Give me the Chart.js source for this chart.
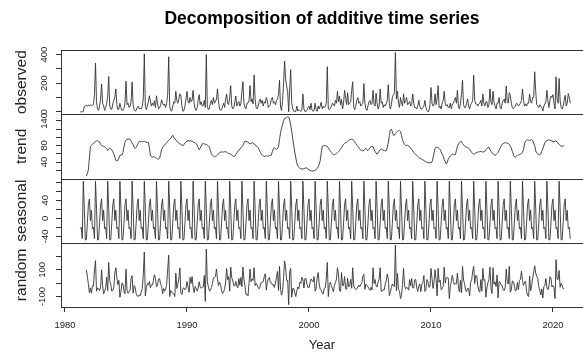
<!DOCTYPE html>
<html><head><meta charset="utf-8">
<script src="https://cdn.jsdelivr.net/npm/chart.js@4.4.1/dist/chart.umd.min.js"></script>
<style>html,body{margin:0;padding:0;background:#fff;overflow:hidden}canvas{display:block}</style>
</head><body>
<canvas id="c" width="583" height="354"></canvas>
<script>
// Monthly series, April 1981 – June 2021 (frequency 12)
const startYear = 1981;
const startMonth = 4;
const frequency = 12;

const observed = [
  0, 0, 0, 2, 38, 42, 44, 40, 46,
  43, 48, 45, 46, 50, 120, 340, 70, 20, 10, 40, 90,
  195, 60, 40, 10, 30, 60, 110, 247, 40, 20, 17, 55,
  80, 100, 160, 50, 15, 20, 60, 30, 10, 12, 25, 60,
  214, 50, 60, 30, 35, 70, 208, 50, 15, 5, 10, 30,
  40, 20, 25, 20, 40, 90, 405, 40, 15, 40, 70, 112,
  75, 40, 60, 45, 77, 30, 112, 60, 20, 27, 45, 84,
  60, 45, 55, 30, 60, 120, 385, 40, 10, 5, 40, 70,
  60, 143, 80, 60, 90, 126, 110, 40, 3, 10, 40, 90,
  143, 70, 60, 100, 70, 80, 150, 60, 20, 10, 30, 80,
  120, 50, 70, 40, 45, 80, 30, 400, 40, 15, 25, 60,
  80, 50, 100, 60, 70, 90, 160, 70, 20, 10, 15, 40,
  60, 30, 90, 125, 60, 50, 100, 183, 40, 20, 30, 70,
  110, 40, 60, 72, 40, 60, 140, 210, 60, 30, 20, 60,
  60, 80, 183, 70, 90, 55, 257, 90, 30, 20, 40, 70,
  90, 60, 80, 40, 70, 60, 100, 80, 30, 40, 50, 90,
  100, 60, 70, 50, 80, 90, 120, 220, 30, 10, 80, 200,
  355, 230, 180, 143, 0, 160, 294, 60, 20, 5, 3, 2,
  40, 5, 15, 8, 3, 10, 125, 20, 2, 3, 10, 30,
  40, 15, 60, 10, 5, 8, 60, 15, 3, 40, 20, 40,
  67, 20, 40, 30, 35, 60, 315, 20, 15, 25, 40, 60,
  55, 40, 80, 60, 143, 70, 110, 50, 86, 20, 60, 150,
  100, 50, 134, 50, 60, 70, 150, 210, 30, 15, 40, 80,
  100, 60, 70, 40, 50, 60, 197, 60, 20, 10, 40, 70,
  80, 50, 60, 150, 50, 40, 130, 60, 20, 40, 160, 60,
  70, 30, 50, 40, 60, 80, 190, 60, 20, 50, 100, 120,
  130, 415, 90, 143, 60, 31, 100, 60, 40, 125, 60, 80,
  100, 50, 60, 72, 40, 50, 125, 60, 30, 30, 20, 40,
  80, 40, 20, 20, 30, 40, 80, 30, 10, 0, 5, 50,
  170, 60, 40, 50, 125, 50, 90, 183, 30, 40, 20, 60,
  80, 143, 60, 40, 50, 30, 30, 60, 20, 55, 60, 80,
  100, 60, 150, 40, 20, 60, 120, 220, 50, 30, 30, 60,
  90, 40, 20, 50, 60, 80, 255, 80, 55, 55, 40, 55,
  60, 80, 40, 125, 60, 40, 70, 70, 30, 50, 160, 70,
  50, 143, 70, 40, 20, 60, 60, 100, 30, 20, 60, 80,
  90, 60, 180, 70, 60, 134, 112, 60, 30, 20, 30, 40,
  60, 55, 40, 50, 60, 80, 160, 80, 40, 55, 40, 60,
  60, 125, 70, 60, 100, 100, 280, 143, 50, 40, 30, 50,
  40, 30, 5, 40, 55, 70, 150, 80, 30, 80, 110, 100,
  120, 60, 20, 245, 90, 60, 233, 80, 30, 20, 40, 80,
  115, 40, 60, 128, 100, 60
];

const trend = [
  null, null, null, null, null, null, 6, 12, 21,
  50, 77, 80, 83, 86, 88, 90, 91, 92, 90, 89, 82,
  80, 79, 78, 77, 75, 73, 68, 71, 74, 72, 70, 65,
  60, 52, 44, 43, 44, 50, 56, 57, 57, 63, 77, 88,
  93, 95, 96, 96, 95, 91, 86, 82, 76, 73, 76, 80,
  86, 90, 90, 90, 89, 90, 90, 89, 88, 88, 88, 74,
  57, 53, 52, 53, 52, 51, 49, 47, 47, 49, 58, 70,
  76, 79, 81, 84, 87, 90, 93, 95, 97, 102, 105, 100,
  97, 94, 90, 88, 86, 84, 83, 81, 80, 82, 86, 88,
  91, 92, 91, 92, 91, 90, 89, 88, 86, 84, 82, 75,
  70, 74, 79, 84, 85, 84, 83, 83, 81, 79, 76, 68,
  60, 56, 54, 53, 54, 55, 57, 61, 63, 64, 64, 65,
  64, 65, 65, 64, 62, 61, 60, 59, 57, 55, 53, 54,
  58, 62, 66, 70, 71, 74, 77, 80, 86, 91, 90, 89,
  88, 86, 84, 85, 87, 86, 84, 81, 79, 77, 75, 70,
  64, 60, 57, 55, 54, 54, 55, 54, 55, 56, 56, 57,
  66, 73, 75, 72, 71, 73, 77, 95, 111, 122, 132, 140,
  146, 147, 148, 150, 149, 142, 130, 115, 97, 80, 64, 50,
  38, 31, 27, 25, 24, 23, 23, 24, 25, 26, 25, 23,
  21, 20, 19, 18, 18, 19, 20, 22, 24, 28, 34, 43,
  62, 78, 79, 80, 80, 79, 78, 74, 70, 67, 63, 60,
  58, 58, 59, 61, 63, 65, 68, 72, 75, 79, 83, 85,
  87, 88, 90, 93, 94, 95, 95, 95, 92, 89, 85, 81,
  78, 75, 71, 69, 68, 67, 68, 71, 73, 70, 68, 71,
  75, 77, 78, 77, 71, 66, 62, 59, 62, 66, 70, 72,
  70, 69, 68, 67, 67, 76, 87, 104, 117, 120, 114, 105,
  105, 109, 112, 114, 116, 116, 114, 104, 94, 87, 83, 80,
  80, 81, 79, 76, 74, 71, 67, 63, 60, 58, 56, 54,
  51, 49, 48, 47, 45, 44, 42, 41, 39, 39, 38, 38,
  39, 40, 50, 62, 73, 76, 76, 75, 73, 70, 65, 59,
  54, 46, 41, 35, 40, 47, 51, 55, 57, 59, 59, 58,
  58, 68, 78, 84, 87, 89, 90, 85, 81, 79, 77, 76,
  75, 74, 71, 67, 63, 61, 59, 60, 62, 63, 64, 65,
  65, 66, 65, 64, 65, 66, 70, 73, 75, 76, 70, 66,
  62, 60, 58, 56, 58, 61, 64, 69, 74, 79, 83, 85,
  86, 87, 86, 86, 85, 83, 78, 74, 66, 59, 53, 52,
  54, 56, 57, 58, 59, 60, 64, 70, 84, 91, 93, 94,
  93, 92, 93, 95, 92, 86, 80, 67, 62, 60, 58, 57,
  60, 66, 72, 80, 87, 91, 92, 93, 94, 93, 92, 91,
  90, 89, 90, 92, 88, 86, 83, 80, 79, 78, 79, 80,
  null, null, null, null, null, null
];

const seasonal = [
  -23, -20, -45, 82, 22, -48, -47, -10, 30,
  43, -5, 18, -23, -20, -45, 82, 22, -48, -47, -10, 30,
  43, -5, 18, -23, -20, -45, 82, 22, -48, -47, -10, 30,
  43, -5, 18, -23, -20, -45, 82, 22, -48, -47, -10, 30,
  43, -5, 18, -23, -20, -45, 82, 22, -48, -47, -10, 30,
  43, -5, 18, -23, -20, -45, 82, 22, -48, -47, -10, 30,
  43, -5, 18, -23, -20, -45, 82, 22, -48, -47, -10, 30,
  43, -5, 18, -23, -20, -45, 82, 22, -48, -47, -10, 30,
  43, -5, 18, -23, -20, -45, 82, 22, -48, -47, -10, 30,
  43, -5, 18, -23, -20, -45, 82, 22, -48, -47, -10, 30,
  43, -5, 18, -23, -20, -45, 82, 22, -48, -47, -10, 30,
  43, -5, 18, -23, -20, -45, 82, 22, -48, -47, -10, 30,
  43, -5, 18, -23, -20, -45, 82, 22, -48, -47, -10, 30,
  43, -5, 18, -23, -20, -45, 82, 22, -48, -47, -10, 30,
  43, -5, 18, -23, -20, -45, 82, 22, -48, -47, -10, 30,
  43, -5, 18, -23, -20, -45, 82, 22, -48, -47, -10, 30,
  43, -5, 18, -23, -20, -45, 82, 22, -48, -47, -10, 30,
  43, -5, 18, -23, -20, -45, 82, 22, -48, -47, -10, 30,
  43, -5, 18, -23, -20, -45, 82, 22, -48, -47, -10, 30,
  43, -5, 18, -23, -20, -45, 82, 22, -48, -47, -10, 30,
  43, -5, 18, -23, -20, -45, 82, 22, -48, -47, -10, 30,
  43, -5, 18, -23, -20, -45, 82, 22, -48, -47, -10, 30,
  43, -5, 18, -23, -20, -45, 82, 22, -48, -47, -10, 30,
  43, -5, 18, -23, -20, -45, 82, 22, -48, -47, -10, 30,
  43, -5, 18, -23, -20, -45, 82, 22, -48, -47, -10, 30,
  43, -5, 18, -23, -20, -45, 82, 22, -48, -47, -10, 30,
  43, -5, 18, -23, -20, -45, 82, 22, -48, -47, -10, 30,
  43, -5, 18, -23, -20, -45, 82, 22, -48, -47, -10, 30,
  43, -5, 18, -23, -20, -45, 82, 22, -48, -47, -10, 30,
  43, -5, 18, -23, -20, -45, 82, 22, -48, -47, -10, 30,
  43, -5, 18, -23, -20, -45, 82, 22, -48, -47, -10, 30,
  43, -5, 18, -23, -20, -45, 82, 22, -48, -47, -10, 30,
  43, -5, 18, -23, -20, -45, 82, 22, -48, -47, -10, 30,
  43, -5, 18, -23, -20, -45, 82, 22, -48, -47, -10, 30,
  43, -5, 18, -23, -20, -45, 82, 22, -48, -47, -10, 30,
  43, -5, 18, -23, -20, -45, 82, 22, -48, -47, -10, 30,
  43, -5, 18, -23, -20, -45, 82, 22, -48, -47, -10, 30,
  43, -5, 18, -23, -20, -45, 82, 22, -48, -47, -10, 30,
  43, -5, 18, -23, -20, -45, 82, 22, -48, -47, -10, 30,
  43, -5, 18, -23, -20, -45, 82, 22, -48, -47, -10, 30,
  43, -5, 18, -23, -20, -45
];

const random = [
  null, null, null, null, null, null, 100, 50, -8,
  -70, -35, -75, -20, -22, 100, 168, -60, -35, -45, -55, -30,
  100, -20, -80, -60, -35, 45, -55, 154, 20, -8, -60, -55,
  -32, 75, 115, 42, -12, 21, -105, -68, 2, -6, -60, -80,
  105, -55, -75, -60, -55, 34, 56, -75, -18, -30, -78, -95,
  -100, -88, -95, -65, -40, 63, 233, -95, -35, -2, -12, 12,
  -35, -12, -14, 21, 63, 34, -27, -13, 30, 35, -5, -22,
  -80, -40, -60, -43, -10, 100, 210, -100, -55, -70, -75, -80,
  -100, 75, -40, -7, 34, 115, -75, -85, -40, -35, -50, -40,
  13, -24, -68, 43, -2, 49, -30, -70, -25, -38, -58, -35,
  10, -27, -38, -30, -28, 57, -135, 255, 10, -24, -57, -53,
  -32, -2, 40, 42, 50, 105, 30, -18, 7, -10, -55, -77,
  -65, -42, 10, 110, 25, 48, -59, 120, 43, 17, -18, -20,
  13, -24, -34, 35, -15, 43, -27, 120, 31, -20, -84, -82,
  -95, -2, 105, 11, 32, 20, 115, -18, -2, -14, -35, -42,
  -24, 7, 7, 11, 50, 71, -52, 6, 32, 43, 6, 4,
  -13, -11, -32, 2, 41, 87, -55, 125, -46, -90, -59, 42,
  166, 115, 20, 22, -160, 88, 110, -105, -40, -39, -71, -100,
  -57, -29, -42, 8, -2, 45, 28, -36, 35, 34, -7, -32,
  -34, 0, 32, 21, 10, 48, -59, -41, 38, 80, -6, -46,
  -53, -74, -80, -38, -35, 36, 155, -100, -10, 7, -18, -42,
  -64, -18, 4, 31, 115, 70, -56, -62, 80, -17, -18, 49,
  -42, -46, 36, -28, -20, 28, -38, 115, -20, -38, -49, -43,
  -29, -14, -27, -8, 3, 53, 66, -46, -7, -18, -25, -43,
  -53, -31, -50, 115, -2, 27, -20, -29, 8, 29, 115, -59,
  -60, -48, -50, -6, 18, 69, 29, -92, -69, -32, -6, -21,
  -25, 285, -56, 73, -50, -56, -115, -92, -8, 110, -18, -42,
  -32, -36, -52, 27, -20, 34, -34, -35, 25, 27, -36, -62,
  -20, -6, -64, -6, 7, 57, -62, -46, 27, 11, -32, -25,
  110, 35, -39, 15, 100, 27, -95, 110, 7, 24, -49, -41,
  -24, 120, 1, 39, 42, 39, -115, -24, 15, 60, 15, -11,
  -1, -4, 76, -29, -66, 22, -73, 125, 24, -3, -52, -64,
  -39, -41, -95, 8, 24, 90, 125, -3, 57, 55, -20, -56,
  -67, 27, -60, 110, 21, 27, -105, -35, 4, 29, 120, -36,
  -77, 115, -8, 10, -25, 62, -110, 13, 6, -17, -18, -49,
  -55, -31, 105, 10, -7, 125, -67, -50, 17, 11, -18, -59,
  -52, 6, -49, 21, 29, 90, 20, -17, 6, 15, -60, -90,
  -100, 53, -57, -17, 39, 83, 130, 76, 50, 38, -25, -52,
  -88, -43, -110, -24, -17, 34, -34, -49, -22, 48, 39, -29,
  -18, -34, -115, 176, 31, 27, 95, -31, -1, -15, -41, -42,
  null, null, null, null, null, null
];

// Axis ticks and labels
const xTicks = [1980, 1990, 2000, 2010, 2020];
const observedTicks = [0, 100, 200, 300, 400];
const observedLabels = [0, 200, 400];
const trendTicks = [20, 40, 60, 80, 100, 120, 140];
const trendLabels = [40, 80, 140];
const seasonalTicks = [-40, -20, 0, 20, 40, 60, 80];
const seasonalLabels = [-40, 0, 40];
const randomTicks = [-100, 0, 100, 200];
const randomLabels = [-100, 100];

const FONT = '"Liberation Sans", Arial, Helvetica, sans-serif';
Chart.defaults.font.family = FONT;

const times = observed.map((_, i) => startYear + (startMonth - 1) / frequency + i / frequency);
const toPoints = arr => arr.map((v, i) => ({ x: times[i], y: v }));

const AXIS_W = 61;
function yScale(min, max, ticks, labels, title) {
  return {
    type: 'linear', position: 'left', stack: 'panels', stackWeight: 1,
    min: min, max: max,
    afterBuildTicks: s => { s.ticks = ticks.map(v => ({ value: v })); },
    afterFit: s => { s.width = AXIS_W; s.paddingTop = 0; s.paddingBottom = 0; s.paddingLeft = 0; s.paddingRight = 0; },
    grid: { drawOnChartArea: false, drawTicks: true, tickLength: 5, color: '#333', lineWidth: 1 },
    border: { display: true, color: '#333', width: 1 },
    ticks: {
      autoSkip: false, minRotation: 90, maxRotation: 90, crossAlign: 'center', padding: 4,
      color: '#222', font: { family: FONT, size: 9.5 },
      callback: v => labels.includes(v) ? String(v) : ''
    },
    title: { display: true, text: title, color: '#222', font: { family: FONT, size: 15.5 }, padding: { top: 12.2, bottom: 0 } }
  };
}

const line = (data, axis) => ({
  data: toPoints(data), yAxisID: axis, xAxisID: 'x',
  borderColor: '#333', borderWidth: 0.9, pointRadius: 0, pointHoverRadius: 0,
  tension: 0, spanGaps: false, fill: false
});

const framePlugin = {
  id: 'panelFrames',
  afterDatasetsDraw(chart) {
    const { ctx, chartArea } = chart;
    ctx.save();
    ctx.strokeStyle = '#333';
    ctx.lineWidth = 1;
    ['yObs', 'yTrend', 'ySeas', 'yRand'].forEach(id => {
      const s = chart.scales[id];
      [s.top, s.bottom].forEach(y => {
        const yy = Math.round(y) + 0.5;
        ctx.beginPath();
        ctx.moveTo(chartArea.left, yy);
        ctx.lineTo(chartArea.right, yy);
        ctx.stroke();
      });
    });
    ctx.restore();
  }
};

new Chart(document.getElementById('c'), {
  type: 'line',
  data: {
    datasets: [
      line(observed, 'yObs'),
      line(trend, 'yTrend'),
      line(seasonal, 'ySeas'),
      line(random, 'yRand')
    ]
  },
  options: {
    responsive: false, animation: false, devicePixelRatio: 1,
    layout: { padding: 0 },
    plugins: {
      legend: { display: false },
      tooltip: { enabled: false },
      title: {
        display: true, text: 'Decomposition of additive time series', fullSize: false,
        color: '#000', font: { family: FONT, size: 17.5, weight: 'bold' },
        padding: { top: 8.5, bottom: 20.5 }
      }
    },
    scales: {
      x: {
        type: 'linear', position: 'bottom',
        min: 1980 - 4 / 12.2, max: 2020 + 30 / 12.2,
        afterBuildTicks: s => { s.ticks = xTicks.map(v => ({ value: v })); },
        afterFit: s => { s.height = 47; s.paddingLeft = 0; s.paddingRight = 0; s.paddingTop = 0; s.paddingBottom = 0; },
        grid: { drawOnChartArea: false, drawTicks: true, tickLength: 5, color: '#333' },
        border: { display: true, color: '#333' },
        ticks: { autoSkip: false, minRotation: 0, maxRotation: 0, padding: 8, color: '#222', font: { family: FONT, size: 9.5 }, callback: v => String(v) },
        title: { display: true, text: 'Year', color: '#222', font: { family: FONT, size: 13 }, padding: { top: 0, bottom: 0.5 } }
      },
      yRand: yScale(-178, 302, randomTicks, randomLabels, 'random'),
      ySeas: yScale(-54, 88, seasonalTicks, seasonalLabels, 'seasonal'),
      yTrend: yScale(0, 156, trendTicks, trendLabels, 'trend'),
      yObs: yScale(-17, 432, observedTicks, observedLabels, 'observed')
    }
  },
  plugins: [framePlugin]
});
</script>
</body></html>
